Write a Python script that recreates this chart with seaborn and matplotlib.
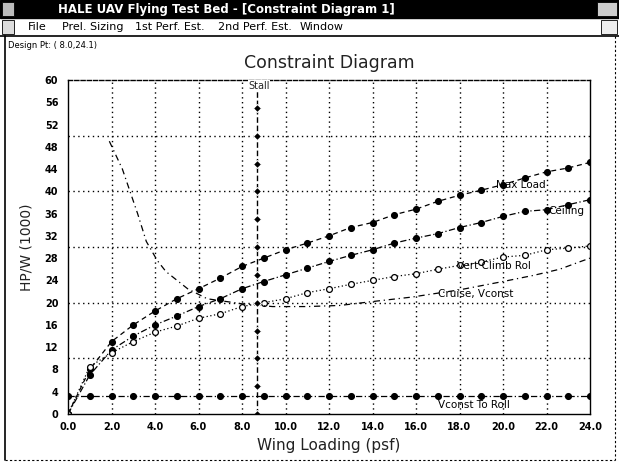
import numpy as np
import pandas as pd
import matplotlib
matplotlib.use("Agg")
import matplotlib.pyplot as plt
from matplotlib.patches import Rectangle
from matplotlib.lines import Line2D
import seaborn as sns

# ---------------- data ----------------
wing_loading = list(range(0, 25))  # psf, 0..24
max_load = [0, 8, 13, 16, 18.5, 20.7, 22.5, 24.4, 26.5, 28, 29.5, 30.7, 32, 33.5,
            34.4, 35.8, 36.8, 38.2, 39.3, 40.2, 41.2, 42.4, 43.5, 44.2, 45.2]
ceiling = [0, 7, 11.5, 14, 16, 17.6, 19.3, 20.7, 22.5, 23.8, 25, 26.2, 27.4, 28.5,
           29.5, 30.7, 31.6, 32.4, 33.5, 34.4, 35.5, 36.4, 36.7, 37.6, 38.5]
vert_climb = [0, 8.5, 11, 13, 14.7, 15.8, 17.2, 18, 19.3, 20, 20.7, 21.8, 22.5, 23.3,
              24, 24.7, 25.2, 26, 26.7, 27.3, 28.2, 28.5, 29.5, 29.8, 30.2]
vconst_to = [3.2] * 25

cruise_x = [1.9, 2.5, 2.85, 3.2, 3.6, 4.1, 4.5, 5.5, 6.4, 8, 9.4, 11, 12.5, 14,
            15.8, 18, 20, 21.4, 22.6, 23.5, 24]
cruise_y = [49, 44, 40, 36, 31, 27.6, 25.6, 22.5, 20.7, 19.8, 19.3, 19.3, 19.5, 20.2,
            21, 22.3, 23.8, 24.9, 26, 27.3, 28]

stall_x = 8.7
stall_y = list(range(0, 61, 5))

x_ticks = [0, 2, 4, 6, 8, 10, 12, 14, 16, 18, 20, 22, 24]
y_ticks = list(range(0, 61, 4))

title = "Constraint Diagram"
x_label = "Wing Loading (psf)"
y_label = "HP/W (1000)"
window_title = "HALE UAV Flying Test Bed - [Constraint Diagram 1]"
menu_items = ["File", "Prel. Sizing", "1st Perf. Est.", "2nd Perf. Est.", "Window"]
menu_x = [28, 62, 135, 218, 300]
design_pt = "Design Pt: ( 8.0,24.1)"

# ---------------- figure ----------------
sns.set_style("white")
plt.rcParams["font.family"] = ["DejaVu Sans"]
W, H = 619, 465
fig = plt.figure(figsize=(W / 100, H / 100), dpi=100)
ax = fig.add_axes([68 / W, 1 - 414 / H, (590 - 68) / W, (414 - 80) / H])

df_curves = pd.DataFrame({
    "x": wing_loading * 4,
    "y": max_load + ceiling + vert_climb + vconst_to,
    "curve": (["Max Load"] * 25 + ["Ceiling"] * 25 + ["Vert Climb"] * 25
              + ["Vconst TO"] * 25),
})

styles = {
    "Max Load": dict(ls=(0, (4, 3)), marker="o", mfc="black"),
    "Ceiling": dict(ls=(0, (5, 2, 1, 2)), marker="o", mfc="black"),
    "Vert Climb": dict(ls=(0, (1, 2)), marker="o", mfc="white"),
    "Vconst TO": dict(ls=(0, (5, 2, 1, 2)), marker="o", mfc="black"),
}
for name, st in styles.items():
    sub = df_curves[df_curves["curve"] == name]
    sns.lineplot(data=sub, x="x", y="y", ax=ax, color="black", lw=0.9,
                 linestyle=st["ls"], marker=st["marker"], markersize=4.2,
                 markerfacecolor=st["mfc"], markeredgecolor="black",
                 markeredgewidth=0.9, legend=False)

df_cruise = pd.DataFrame({"x": cruise_x, "y": cruise_y})
sns.lineplot(data=df_cruise, x="x", y="y", ax=ax, color="black", lw=0.9,
             linestyle=(0, (5, 3, 1, 3)), sort=False, legend=False)

df_stall = pd.DataFrame({"x": [stall_x] * len(stall_y), "y": stall_y})
sns.lineplot(data=df_stall, x="x", y="y", ax=ax, orient="y", color="black", lw=1.0,
             linestyle=(0, (4, 2)), marker="D", markersize=4, legend=False)

ax.set_xlim(0, 24)
ax.set_ylim(0, 60)
ax.set_xticks(x_ticks)
ax.set_xticklabels([f"{v:.1f}" for v in x_ticks])
ax.set_yticks(y_ticks)
ax.set_yticklabels([str(v) for v in y_ticks])
ax.set_xticks(np.arange(0, 24.01, 0.4), minor=True)
ax.set_yticks(np.arange(0, 60.01, 1), minor=True)
ax.tick_params(axis="both", which="major", direction="in", length=4, width=0.8,
               labelsize=7, colors="black")
ax.tick_params(axis="x", which="major", pad=6)
ax.tick_params(axis="y", which="major", pad=7)
ax.tick_params(axis="both", which="minor", direction="in", length=2, width=0.6)
ax.tick_params(axis="x", which="both", top=False)
ax.tick_params(axis="y", which="both", right=False)
for lab in ax.get_xticklabels() + ax.get_yticklabels():
    lab.set_fontweight("bold")

# grid: vertical every 2, horizontal every 10
for gx in range(2, 24, 2):
    ax.axvline(gx, color="black", lw=1.0, ls=(0, (1, 2.5)), zorder=0)
for gy in range(10, 60, 10):
    ax.axhline(gy, color="black", lw=1.0, ls=(0, (1, 2.5)), zorder=0)
for s in ax.spines.values():
    s.set_color("black")
    s.set_linewidth(1.0)
ax.spines["top"].set_linestyle((0, (3, 1.5)))

ax.set_xlabel(x_label, fontsize=11, labelpad=4, color="#222222")
ax.set_ylabel(y_label, fontsize=10, labelpad=8, color="#222222")
ax.set_title(title, fontsize=12.5, pad=9, color="#222222")

# curve labels
lab_kw = dict(fontsize=7.5, color="black", ha="left", va="center")
ax.text(19.7, 41.2, "Max Load", **lab_kw)
ax.text(22.1, 36.4, "Ceiling", **lab_kw)
ax.text(17.9, 26.6, "Vert Climb Rol", **lab_kw)
ax.text(17.0, 21.6, "Cruise, Vconst", **lab_kw)
ax.text(17.0, 1.7, "Vconst To Roll", **lab_kw)
ax.text(8.3, 59.0, "Stall", fontsize=7, ha="left", va="center",
        bbox=dict(facecolor="white", edgecolor="none", pad=0.3))

# ---------------- window chrome ----------------
def fy(py):
    return 1 - py / H

fig.add_artist(Rectangle((0, fy(18)), 1, 18 / H, transform=fig.transFigure,
                         color="black", zorder=5))
fig.text(226 / W, fy(9), window_title, color="white", fontsize=8.5,
         fontweight="bold", ha="center", va="center", zorder=6)
fig.add_artist(Rectangle((2 / W, fy(16)), 12 / W, 14 / H, transform=fig.transFigure,
                         facecolor="#bbbbbb", edgecolor="black", lw=0.6, zorder=6))
fig.add_artist(Rectangle((597 / W, fy(16)), 20 / W, 14 / H, transform=fig.transFigure,
                         facecolor="#cccccc", edgecolor="black", lw=0.6, zorder=6))
for name, mx in zip(menu_items, menu_x):
    fig.text(mx / W, fy(27), name, fontsize=8, color="black", ha="left",
             va="center", zorder=6)
fig.add_artist(Rectangle((2 / W, fy(34)), 12 / W, 14 / H, transform=fig.transFigure,
                         facecolor="#dddddd", edgecolor="black", lw=0.6, zorder=6))
fig.add_artist(Rectangle((601 / W, fy(34)), 16 / W, 14 / H, transform=fig.transFigure,
                         facecolor="#eeeeee", edgecolor="black", lw=0.6, zorder=6))
fig.add_artist(Line2D([0, 1], [fy(36), fy(36)], transform=fig.transFigure,
                      color="black", lw=1.2))
fig.add_artist(Line2D([5 / W, 5 / W], [fy(36), fy(460)], transform=fig.transFigure,
                      color="black", lw=1.2))
fig.add_artist(Line2D([615 / W, 615 / W], [fy(36), fy(460)], transform=fig.transFigure,
                      color="black", lw=0.8, ls=(0, (2, 2))))
fig.add_artist(Line2D([5 / W, 615 / W], [fy(460), fy(460)], transform=fig.transFigure,
                      color="black", lw=0.8, ls=(0, (2, 2))))
fig.text(8 / W, fy(45), design_pt, fontsize=6, color="black", ha="left", va="center")

fig.savefig("out.png", dpi=100)
